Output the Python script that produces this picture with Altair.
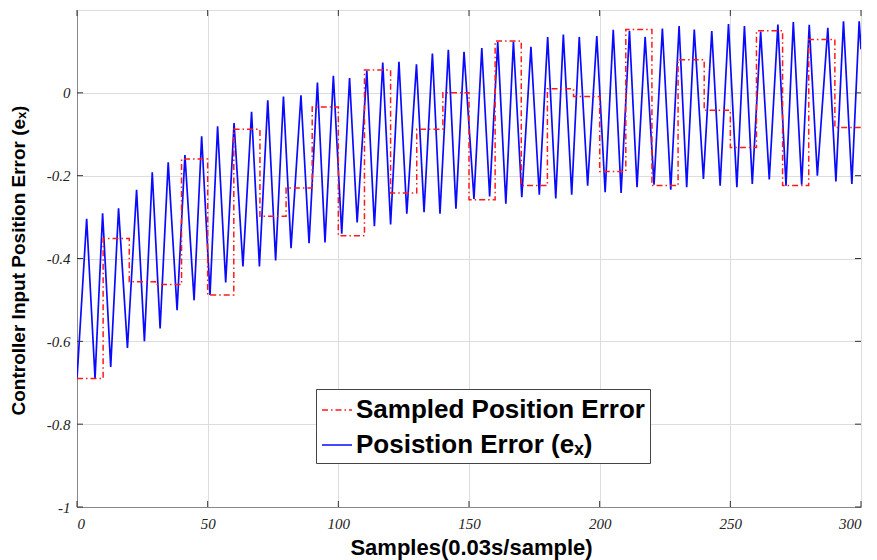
import altair as alt
import pandas as pd

# ---- data ----
blue_x = [0, 3.7, 6.9, 9.8, 12.9, 15.9, 19.3, 22.8, 25.8, 28.8, 31.8, 34.9, 38.3, 41.3, 44.8,
          47.7, 50.9, 53.8, 56.9, 60.1, 63.5, 66.8, 69.8, 73.0, 76.0, 79.0, 81.9, 85.7, 88.8,
          92.0, 94.9, 98.1, 101.3, 104.3, 107.2, 110.9, 113.8, 117.0, 120.0, 123.2, 126.2,
          129.9, 132.8, 136.0, 138.9, 142.1, 145.0, 148.1, 151.9, 154.9, 157.9, 161.0, 164.1,
          167.0, 170.2, 173.7, 176.9, 180.1, 183.2, 186.1, 189.3, 192.2, 195.4, 198.9, 202.1,
          205.2, 208.2, 211.4, 214.3, 217.4, 220.8, 224.0, 227.2, 230.4, 233.3, 236.2, 239.7,
          242.9, 246.1, 249.3, 252.5, 255.4, 258.4, 261.6, 264.9, 268.2, 271.3, 274.1, 277.3,
          280.2, 283.3, 287.3, 290.4, 293.3, 296.5, 299.3, 300]
blue_y = [-0.690, -0.304, -0.690, -0.291, -0.662, -0.279, -0.616, -0.234, -0.600, -0.192,
          -0.569, -0.168, -0.525, -0.150, -0.501, -0.105, -0.488, -0.081, -0.458, -0.073,
          -0.419, -0.046, -0.419, -0.018, -0.405, -0.009, -0.375, -0.006, -0.363, 0.025,
          -0.361, 0.041, -0.340, 0.036, -0.313, 0.053, -0.322, 0.073, -0.318, 0.075,
          -0.292, 0.069, -0.288, 0.095, -0.292, 0.104, -0.280, 0.099, -0.256, 0.108,
          -0.250, 0.123, -0.268, 0.124, -0.252, 0.111, -0.246, 0.135, -0.255, 0.141,
          -0.246, 0.135, -0.224, 0.137, -0.240, 0.152, -0.242, 0.150, -0.228, 0.135,
          -0.222, 0.155, -0.234, 0.161, -0.228, 0.153, -0.208, 0.149, -0.224, 0.166,
          -0.228, 0.161, -0.220, 0.148, -0.209, 0.165, -0.224, 0.171, -0.222, 0.164,
          -0.200, 0.157, -0.214, 0.173, -0.220, 0.173, 0.105]

red_x = [0, 10, 20, 30, 40, 50, 60, 70, 80, 90, 100, 110, 120, 130, 140, 150, 160, 170,
         180, 190, 200, 210, 220, 230, 240, 250, 260, 270, 280, 290, 300]
red_y = [-0.690, -0.352, -0.456, -0.463, -0.160, -0.488, -0.088, -0.298, -0.230, -0.034,
         -0.345, 0.055, -0.242, -0.088, 0.000, -0.258, 0.125, -0.224, 0.010, -0.009,
         -0.190, 0.153, -0.224, 0.080, -0.042, -0.132, 0.150, -0.224, 0.129, -0.084, -0.084]

x_ticks = [0, 50, 100, 150, 200, 250, 300]
y_ticks = [-1, -0.8, -0.6, -0.4, -0.2, 0]

S_RED = "Sampled Position Error"
S_BLUE = "Posistion Error (eₓ)"

W, H = 784, 497

df = pd.concat([
    pd.DataFrame({"x": blue_x, "y": blue_y, "series": S_BLUE}),
    pd.DataFrame({"x": red_x, "y": red_y, "series": S_RED}),
], ignore_index=True)

xt_df = pd.DataFrame({"xt": x_ticks})
yt_df = pd.DataFrame({"yt": y_ticks})

LBL_FONT = "Liberation Serif"
TTL_FONT = "Liberation Sans"

x_scale = alt.Scale(domain=[0, 300], nice=False, zero=False)
y_scale = alt.Scale(domain=[-1, 0.2], nice=False, zero=False)

x_axis = alt.Axis(values=x_ticks, title="Samples(0.03s/sample)", labelFont=LBL_FONT,
                  labelFontStyle="italic", labelFontSize=15, labelColor="#222222",
                  labelPadding=9, ticks=False, titleFont=TTL_FONT, titleFontSize=22,
                  titleFontWeight="bold", titleColor="#000000", titleX=W / 2 + 2, titleY=47,
                  titleBaseline="alphabetic", titleAnchor="middle")
y_axis = alt.Axis(values=y_ticks, title="Controller Input Position Error (eₓ)",
                  labelExpr="'' + datum.value", labelFont=LBL_FONT,
                  labelFontStyle="italic", labelFontSize=15, labelColor="#222222",
                  labelPadding=7, ticks=False, titleFont=TTL_FONT, titleFontSize=19,
                  titleFontWeight="bold", titleColor="#000000", titleX=-49, titleY=250,
                  titleBaseline="bottom", titleAngle=-90, titleAnchor="middle")

color_scale = alt.Scale(domain=[S_RED, S_BLUE], range=["#ff1a1a", "#0a0aff"])
dash_scale = alt.Scale(domain=[S_RED, S_BLUE], range=[[6, 3, 1.5, 3], [1, 0]])

legend = alt.Legend(title=None, orient="none", legendX=239, legendY=379,
                    symbolType="stroke", symbolSize=900, symbolStrokeWidth=1.3,
                    labelFont=TTL_FONT, labelFontSize=26, labelFontWeight="bold",
                    labelColor="#000000", labelLimit=600, labelOffset=3,
                    rowPadding=6, padding=5, fillColor="#ffffff",
                    strokeColor="#444444")


def enc(chart):
    return chart.encode(
        x=alt.X("x:Q", scale=x_scale, axis=x_axis),
        y=alt.Y("y:Q", scale=y_scale, axis=y_axis),
        color=alt.Color("series:N", scale=color_scale, legend=legend),
        strokeDash=alt.StrokeDash("series:N", scale=dash_scale, legend=legend),
    )


blue = enc(alt.Chart(df).transform_filter(alt.datum.series == S_BLUE)
           .mark_line(strokeWidth=1.7, clip=True))
red = enc(alt.Chart(df).transform_filter(alt.datum.series == S_RED)
          .mark_line(strokeWidth=1.5, interpolate="step-after", clip=True))

# inward tick marks (MATLAB box style)
xt_bottom = alt.Chart(xt_df).mark_rule(color="#333333", strokeWidth=1).encode(
    x=alt.X("xt:Q", scale=x_scale, axis=x_axis), y=alt.value(H), y2=alt.value(H - 6))
xt_top = alt.Chart(xt_df).mark_rule(color="#333333", strokeWidth=1).encode(
    x=alt.X("xt:Q", scale=x_scale, axis=x_axis), y=alt.value(0), y2=alt.value(6))
yt_left = alt.Chart(yt_df).mark_rule(color="#333333", strokeWidth=1).encode(
    y=alt.Y("yt:Q", scale=y_scale, axis=y_axis), x=alt.value(0), x2=alt.value(6))
yt_right = alt.Chart(yt_df).mark_rule(color="#333333", strokeWidth=1).encode(
    y=alt.Y("yt:Q", scale=y_scale, axis=y_axis), x=alt.value(W), x2=alt.value(W - 6))

chart = alt.layer(blue, red, xt_bottom, xt_top, yt_left, yt_right).properties(
    width=W, height=H,
    padding={"left": 77, "top": 10, "right": 16, "bottom": 53},
    autosize=alt.AutoSizeParams(type="none"),
).configure_view(
    stroke="#4d4d4d", strokeWidth=1.2
).configure_axis(
    grid=True, gridColor="#dedede", gridWidth=1, domainColor="#4d4d4d", domainWidth=1.2,
).configure(background="#ffffff")

chart.save("out.html", embed_options={"renderer": "svg", "actions": False})
